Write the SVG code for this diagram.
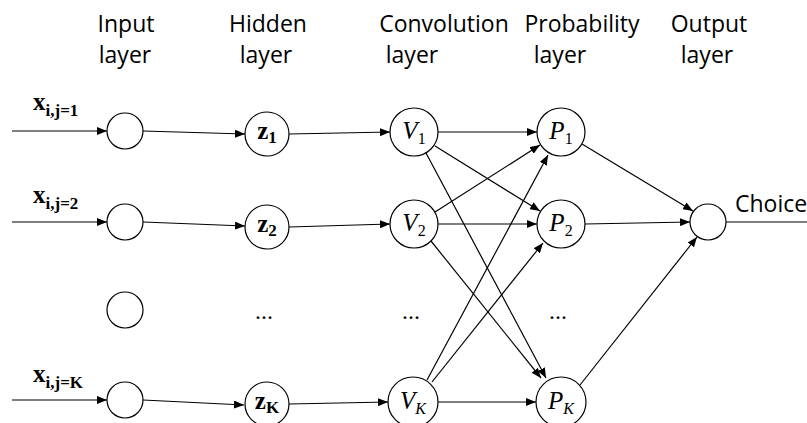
<svg xmlns="http://www.w3.org/2000/svg" width="807" height="423" viewBox="0 0 807 423">
<defs>
<style>
.hd{font-family:"Open Sans","Liberation Sans",sans-serif;font-size:23px;fill:#000;text-anchor:middle}
.ch{font-family:"Open Sans","Liberation Sans",sans-serif;font-size:23px;fill:#000}
.nd{fill:#fff;stroke:#000;stroke-width:1.2}
.cn{fill:none;stroke:#000;stroke-width:1.2;marker-end:url(#ah)}
.ln{fill:none;stroke:#000;stroke-width:1.2}
.xl{font-family:"Liberation Serif","DejaVu Serif",serif;font-weight:bold;font-size:25px;fill:#000}
.xs{font-size:17px}
.zl{font-family:"Liberation Serif","DejaVu Serif",serif;font-weight:bold;font-size:25px;fill:#000;text-anchor:middle}
.zs{font-size:17px}
.ml{font-family:"Liberation Serif","DejaVu Serif",serif;font-size:25px;fill:#000;text-anchor:middle}
.it{font-style:italic}
.ms{font-size:16px}
.dt{font-family:"Liberation Serif","DejaVu Serif",serif;font-size:24px;fill:#000;text-anchor:middle}
</style>
<marker id="ah" viewBox="0 0 10 8" refX="10" refY="4" markerWidth="10" markerHeight="8" markerUnits="userSpaceOnUse" orient="auto">
<path d="M0,0 L10,4 L0,8 z" fill="#000"/>
</marker>
</defs>
<rect width="807" height="423" fill="#fff"/>

<g id="headers">
<text class="hd" x="126" y="32">Input</text>
<text class="hd" x="125" y="63">layer</text>
<text class="hd" x="268" y="32">Hidden</text>
<text class="hd" x="266" y="63">layer</text>
<text class="hd" x="444" y="32">Convolution</text>
<text class="hd" x="412" y="63">layer</text>
<text class="hd" x="582" y="32">Probability</text>
<text class="hd" x="560" y="63">layer</text>
<text class="hd" x="709" y="32">Output</text>
<text class="hd" x="707" y="63">layer</text>
</g>

<g id="connectors">
<path class="cn" d="M12,131 L107,131"/>
<path class="cn" d="M12,222 L107,222"/>
<path class="cn" d="M12,400 L107,400"/>
<path class="cn" d="M143,131 L245,134"/>
<path class="cn" d="M143,222 L245,226"/>
<path class="cn" d="M143,400 L244,405"/>
<path class="cn" d="M289,134 L390,132"/>
<path class="cn" d="M289,227 L390,224"/>
<path class="cn" d="M289,404 L388,402"/>
<path class="cn" d="M438,132 L537,132"/>
<path class="cn" d="M435,146 L540,211"/>
<path class="cn" d="M426,153 L546,378"/>
<path class="cn" d="M435,212 L540,145"/>
<path class="cn" d="M438,224 L537,224"/>
<path class="cn" d="M431,241 L541,378"/>
<path class="cn" d="M427,380 L548,155"/>
<path class="cn" d="M432,382 L543,243"/>
<path class="cn" d="M438,402 L536,402"/>
<path class="cn" d="M582,144 L693,211"/>
<path class="cn" d="M585,224 L690,222"/>
<path class="cn" d="M580,385 L697,237"/>
<path class="ln" d="M726,222 L807,222"/>
</g>

<g id="input-labels">
<text class="xl" x="33" y="110">x<tspan class="xs" dy="6">i,j=1</tspan></text>
<text class="xl" x="33" y="203">x<tspan class="xs" dy="6">i,j=2</tspan></text>
<text class="xl" x="33" y="382">x<tspan class="xs" dy="6">i,j=K</tspan></text>
</g>

<g id="in1"><circle class="nd" cx="125" cy="131" r="18"/></g>
<g id="in2"><circle class="nd" cx="125" cy="222" r="18"/></g>
<g id="in3"><circle class="nd" cx="125" cy="310" r="18"/></g>
<g id="inK"><circle class="nd" cx="125" cy="400" r="18"/></g>

<g id="z1"><circle class="nd" cx="267" cy="134" r="22"/><text class="zl" x="267" y="139">z<tspan class="zs" dy="4">1</tspan></text></g>
<g id="z2"><circle class="nd" cx="267" cy="227" r="22"/><text class="zl" x="267" y="232">z<tspan class="zs" dy="4">2</tspan></text></g>
<g id="zK"><circle class="nd" cx="267" cy="404" r="22"/><text class="zl" x="267" y="409">z<tspan class="zs" dy="4">K</tspan></text></g>

<g id="V1"><circle class="nd" cx="414" cy="132" r="24"/><text class="ml" x="414" y="139"><tspan class="it">V</tspan><tspan class="ms" dy="5">1</tspan></text></g>
<g id="V2"><circle class="nd" cx="414" cy="224" r="24"/><text class="ml" x="414" y="231"><tspan class="it">V</tspan><tspan class="ms" dy="5">2</tspan></text></g>
<g id="VK"><circle class="nd" cx="413" cy="402" r="25"/><text class="ml" x="413" y="409"><tspan class="it">V</tspan><tspan class="ms it" dy="5">K</tspan></text></g>

<g id="P1"><circle class="nd" cx="561" cy="132" r="24"/><text class="ml" x="561" y="139"><tspan class="it">P</tspan><tspan class="ms" dy="5">1</tspan></text></g>
<g id="P2"><circle class="nd" cx="561" cy="224" r="24"/><text class="ml" x="561" y="231"><tspan class="it">P</tspan><tspan class="ms" dy="5">2</tspan></text></g>
<g id="PK"><circle class="nd" cx="561" cy="402" r="25"/><text class="ml" x="561" y="409"><tspan class="it">P</tspan><tspan class="ms it" dy="5">K</tspan></text></g>

<g id="dots">
<text class="dt" x="264" y="319">...</text>
<text class="dt" x="411" y="319">...</text>
<text class="dt" x="558" y="319">...</text>
</g>

<g id="out"><circle class="nd" cx="708" cy="222" r="18"/></g>
<text class="ch" x="735" y="212">Choice</text>
</svg>
